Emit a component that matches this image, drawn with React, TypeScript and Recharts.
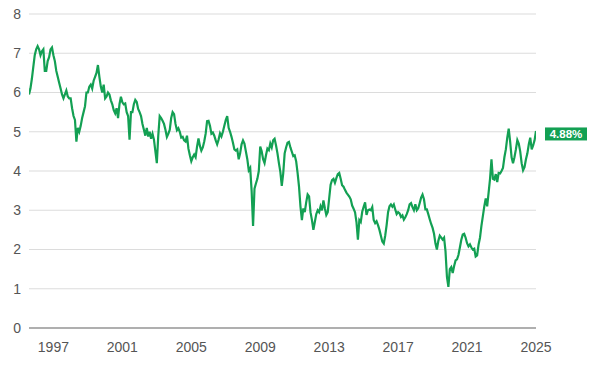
import { LineChart, Line, XAxis, YAxis, CartesianGrid, ReferenceDot } from "recharts";

// first observation: August 1995, one value per month
const startYear = 1995 + 7 / 12;

const yields = [
  5.95, 6.1, 6.35, 6.65, 6.95, 7.1, 7.18, 7.1, 6.95, 7.05, 7.1, 6.55,
  6.55, 6.8, 6.9, 7.1, 7.15, 6.95, 6.8, 6.55, 6.4, 6.25, 6.1, 5.95,
  5.85, 5.95, 6.05, 5.9, 5.85, 5.85, 5.6, 5.4, 5.3, 4.75, 5.1, 5.0,
  5.15, 5.35, 5.5, 5.65, 6.0, 6.0, 6.15, 6.2, 6.1, 6.3, 6.4, 6.5,
  6.7, 6.4, 6.15, 6.0, 6.2, 5.85, 5.9, 6.0, 5.95, 5.8, 5.7, 5.55,
  5.47, 5.6, 5.35, 5.7, 5.89, 5.75, 5.7, 5.72, 5.5, 5.4, 4.8, 5.5,
  5.5, 5.7, 5.81, 5.76, 5.58, 5.5, 5.4, 5.2, 5.05, 4.9, 5.1, 4.88,
  5.0, 4.82, 4.95, 4.8, 4.5, 4.2, 4.9, 5.4, 5.35, 5.28, 5.2, 5.05,
  4.87, 4.95, 5.05, 5.35, 5.5, 5.45, 5.2, 5.04, 5.09, 5.0, 4.85, 4.87,
  4.78, 4.75, 4.9, 4.57, 4.4, 4.25, 4.35, 4.42, 4.35, 4.62, 4.83, 4.64,
  4.52, 4.6, 4.75, 4.95, 5.27, 5.28, 5.15, 4.95, 4.98, 4.9, 4.78, 4.68,
  4.8, 4.96, 4.88, 5.0, 5.15, 5.3, 5.4, 5.1, 5.0, 4.87, 4.72, 4.55,
  4.52, 4.55, 4.3, 4.45, 4.68, 4.78, 4.7, 4.5, 4.3, 4.02, 4.08, 3.5,
  2.6, 3.55, 3.68, 3.8, 4.0, 4.62, 4.5, 4.3, 4.2, 4.4, 4.57, 4.53,
  4.7, 4.6, 4.78, 4.82, 4.65, 4.45, 4.2, 3.98, 3.62, 3.94, 4.45, 4.6,
  4.72, 4.74, 4.6, 4.49, 4.38, 4.4, 4.25, 3.95, 3.6, 3.1, 2.75, 3.05,
  2.95, 3.2, 3.4, 3.35, 2.95, 2.75, 2.5, 2.7, 2.9, 3.0, 2.95, 3.1,
  3.0, 3.25, 3.05, 2.88, 2.95, 3.3, 3.65, 3.77, 3.8, 3.7, 3.82, 3.92,
  3.95, 3.8, 3.64, 3.6, 3.52, 3.45, 3.4, 3.35, 3.28, 3.12, 3.04, 2.95,
  2.7, 2.25, 2.75, 2.7, 2.96, 3.09, 3.2, 2.88, 3.0, 3.02, 3.0, 3.08,
  2.75, 2.67, 2.72, 2.62, 2.5, 2.35, 2.2, 2.15, 2.35, 2.62, 2.95, 3.1,
  3.15, 3.09, 3.15, 3.02, 2.9, 2.95, 2.92, 2.83, 2.87, 2.76, 2.82, 2.9,
  3.0, 3.15, 3.18, 3.08, 3.0, 3.15, 3.0, 3.05, 3.18, 3.32, 3.4, 3.28,
  3.02, 3.02, 2.9, 2.77, 2.65, 2.55, 2.4, 2.15, 2.0, 2.22, 2.35, 2.3,
  2.25, 2.3, 1.95, 1.3, 1.05, 1.5, 1.55, 1.4, 1.58, 1.72, 1.75, 1.86,
  2.05, 2.25, 2.38, 2.4, 2.3, 2.16, 2.08, 2.13, 2.05, 2.0, 2.02, 1.82,
  1.85, 2.12, 2.3, 2.6, 2.85, 3.1, 3.3, 3.1, 3.45, 3.8, 4.3, 3.8,
  3.78, 3.92, 3.72, 3.95, 3.94, 4.0, 4.08, 4.35, 4.55, 4.85, 5.08, 4.75,
  4.35, 4.2, 4.35, 4.55, 4.79, 4.7, 4.5, 4.2, 4.02, 4.1, 4.3, 4.45,
  4.68, 4.85, 4.55, 4.65, 4.78, 5.02,
];

const yearTicks = [1997, 2001, 2005, 2009, 2013, 2017, 2021, 2025];
const valueTicks = [0, 1, 2, 3, 4, 5, 6, 7, 8];
const latestValue = 4.88;
const latestLabel = "4.88%";

const data = yields.map((v, i) => ({ t: startYear + i / 12, v }));
const lastT = data[data.length - 1].t;

const GREEN = "#13a053";
const FONT = "'Liberation Sans', Arial, sans-serif";

function LatestTag(props: any) {
  const { cx, cy } = props;
  if (cx == null || cy == null) return null;
  const x = cx + 9;
  const y = cy - 9;
  return (
    <g>
      <rect x={x} y={y} width={42} height={13} fill={GREEN} />
      <text
        x={x + 21}
        y={y + 11}
        textAnchor="middle"
        fill="#fff"
        fontSize={11.5}
        fontWeight="bold"
        fontFamily={FONT}
      >
        {latestLabel}
      </text>
    </g>
  );
}

export default function App() {
  return (
    <div style={{ position: "absolute", left: 0, top: 0, width: 606, height: 367, background: "#fff" }}>
      <LineChart
        width={606}
        height={367}
        data={data}
        margin={{ top: 14, right: 70, bottom: 0, left: 0 }}
      >
        <CartesianGrid horizontal vertical={false} stroke="#dcdcdc" strokeWidth={1.2} />
        <XAxis
          dataKey="t"
          type="number"
          domain={[startYear, lastT]}
          ticks={yearTicks}
          interval={0}
          allowDataOverflow
          height={39}
          tickLine={false}
          tickMargin={8}
          axisLine={{ stroke: "#9a9a9a", strokeWidth: 1.5 }}
          tick={{ fill: "#555", fontSize: 14, fontFamily: FONT }}
        />
        <YAxis
          domain={[0, 8]}
          ticks={valueTicks}
          interval={0}
          width={29}
          axisLine={false}
          tickLine={false}
          tick={{ fill: "#555", fontSize: 14, fontFamily: FONT }}
        />
        <Line
          type="linear"
          dataKey="v"
          stroke={GREEN}
          strokeWidth={2.2}
          strokeLinejoin="miter"
          dot={false}
          isAnimationActive={false}
        />
        <ReferenceDot
          x={lastT}
          y={latestValue}
          r={0}
          ifOverflow="visible"
          shape={(p: any) => <LatestTag {...p} />}
        />
      </LineChart>
    </div>
  );
}
